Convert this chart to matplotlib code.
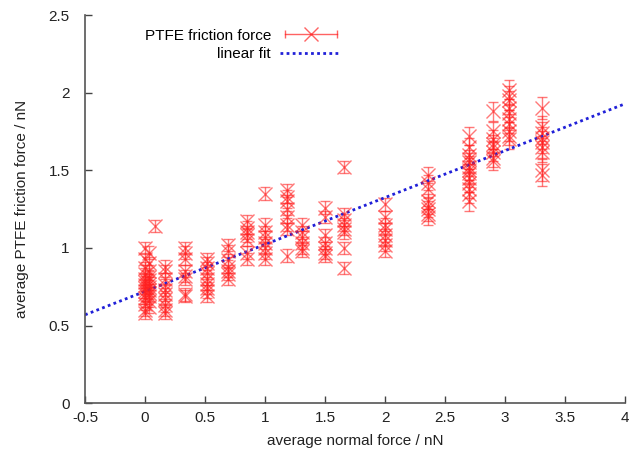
"""PTFE friction force versus normal force, with a linear fit."""

import matplotlib
matplotlib.use('Agg')
import matplotlib.pyplot as plt
import numpy as np
from matplotlib.lines import Line2D
from matplotlib.legend_handler import HandlerLine2D, HandlerTuple

plt.rcParams['font.family'] = ['Liberation Sans', 'DejaVu Sans']
plt.rcParams['axes.unicode_minus'] = False

# Measured clusters: normal force (nN) -> friction forces (nN)
cluster_x = [0.0, 0.03, 0.08, 0.17, 0.33, 0.52, 0.69, 0.85, 1.0, 1.18,
             1.31, 1.5, 1.66, 2.0, 2.36, 2.7, 2.9, 3.03, 3.31]
cluster_y = [
    [1.0, 0.93, 0.87, 0.83, 0.8, 0.78, 0.76, 0.74, 0.72, 0.7, 0.68, 0.64,
     0.6, 0.58],
    [0.97, 0.9, 0.85, 0.81, 0.79, 0.77, 0.75, 0.73, 0.71, 0.69, 0.66, 0.62],
    [1.14],
    [0.88, 0.85, 0.8, 0.76, 0.73, 0.7, 0.67, 0.63, 0.6, 0.58],
    [1.0, 0.97, 0.93, 0.85, 0.82, 0.8, 0.7, 0.69],
    [0.93, 0.9, 0.87, 0.84, 0.8, 0.77, 0.74, 0.72, 0.69],
    [1.02, 0.98, 0.92, 0.88, 0.85, 0.83, 0.8],
    [1.17, 1.13, 1.1, 1.08, 1.05, 0.97, 0.93],
    [1.35, 1.15, 1.1, 1.07, 1.03, 1.0, 0.97, 0.93],
    [1.37, 1.33, 1.3, 1.25, 1.2, 1.15, 1.12, 0.95],
    [1.15, 1.1, 1.07, 1.03, 1.0, 0.98],
    [1.26, 1.2, 1.08, 1.03, 1.0, 0.97, 0.95],
    [1.52, 1.22, 1.18, 1.15, 1.12, 1.1, 1.0, 0.87],
    [1.28, 1.2, 1.15, 1.12, 1.08, 1.05, 1.02, 0.98],
    [1.47, 1.42, 1.38, 1.3, 1.27, 1.25, 1.22, 1.2],
    [1.72, 1.65, 1.6, 1.57, 1.55, 1.52, 1.5, 1.48, 1.45, 1.42, 1.38, 1.35,
     1.3],
    [1.88, 1.75, 1.7, 1.67, 1.65, 1.62, 1.58, 1.56],
    [2.02, 1.98, 1.95, 1.9, 1.87, 1.83, 1.8, 1.75, 1.72, 1.7],
    [1.9, 1.78, 1.74, 1.71, 1.68, 1.65, 1.62, 1.5, 1.47],
]
cluster_err = [0.04, 0.04, 0.04, 0.04, 0.04, 0.04, 0.04, 0.04, 0.04, 0.04,
               0.04, 0.04, 0.04, 0.04, 0.05, 0.06, 0.06, 0.06, 0.07]

# Linear fit: friction = intercept + slope * normal
fit_intercept = 0.72
fit_slope = 0.302

xs = np.concatenate([[x] * len(ys) for x, ys in zip(cluster_x, cluster_y)])
ys = np.concatenate(cluster_y)
errs = np.concatenate([[e] * len(y) for e, y in zip(cluster_err, cluster_y)])

fig = plt.figure(figsize=(6.3, 4.55), dpi=100)
ax = fig.add_axes([0.135, 0.114, 0.857, 0.853])

red = '#ff2020'
blue = '#2020d8'
ax.errorbar(xs, ys, yerr=errs, fmt='x', color=red, ecolor=red, alpha=0.6,
            markersize=10, markeredgewidth=1.0, elinewidth=1.0, capsize=3.8,
            capthick=1.0)

fit_x = np.array([-0.5, 4.0])
ax.plot(fit_x, fit_intercept + fit_slope * fit_x, color=blue,
        linestyle=(0, (1, 1.2)), linewidth=2.0)

ax.set_xlim(-0.5, 4)
ax.set_ylim(0, 2.5)
ax.set_xticks(np.arange(-0.5, 4.01, 0.5))
ax.set_yticks(np.arange(0, 2.51, 0.5))
ax.set_xticklabels(['%g' % v for v in np.arange(-0.5, 4.01, 0.5)])
ax.set_yticklabels(['%g' % v for v in np.arange(0, 2.51, 0.5)])
ax.tick_params(direction='in', length=5, width=1, color='#444444',
               labelsize=11, labelcolor='#222222')
ax.tick_params(axis='x', pad=6)
ax.tick_params(axis='y', pad=11)
for side in ('top', 'right'):
    ax.spines[side].set_visible(False)
for side in ('left', 'bottom'):
    ax.spines[side].set_color('#555555')
    ax.spines[side].set_linewidth(1.2)

ax.set_xlabel('average normal force / nN', fontsize=11, color='#222222',
              labelpad=6)
ax.set_ylabel('average PTFE friction force / nN', fontsize=11,
              color='#222222', labelpad=14)

# gnuplot-style legend sample: horizontal bar with end caps and a cross
caps = Line2D([], [], color=red, alpha=0.7, linestyle='-', marker='|',
              markersize=6, linewidth=1.0)
cross = Line2D([], [], color=red, alpha=0.7, linestyle='none', marker='x',
               markersize=10)
fit_handle = Line2D([], [], color=blue, linestyle=(0, (1, 1.2)),
                    linewidth=2.0)
ax.legend([(caps, cross), fit_handle], ['PTFE friction force', 'linear fit'],
          handler_map={caps: HandlerLine2D(numpoints=2),
                       cross: HandlerLine2D(numpoints=1),
                       tuple: HandlerTuple(ndivide=1, pad=0)},
          loc='upper right', bbox_to_anchor=(0.5, 1.0), frameon=False,
          markerfirst=False, fontsize=11, handlelength=4.0,
          labelspacing=0.3, handletextpad=0.6)

fig.savefig('out.png', dpi=100)
